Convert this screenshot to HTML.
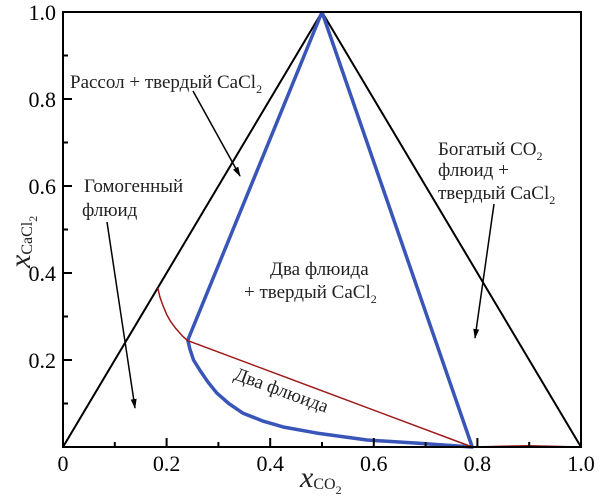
<!DOCTYPE html>
<html><head><meta charset="utf-8"><style>
body{margin:0;background:#fff}
svg{display:block;font-family:"Liberation Serif",serif}
</style></head><body>
<svg id="chart" width="609" height="500" viewBox="0 0 609 500">
<defs><marker id="ah" markerWidth="10" markerHeight="14" refX="9" refY="4" orient="auto" markerUnits="userSpaceOnUse" viewBox="0 0 10 8"><path d="M0,1 L10,4 L0,7 Z" fill="#000"/></marker></defs>
<g id="marks"></g>
<rect x="63" y="12" width="518" height="435" fill="none" stroke="#000" stroke-width="2"/>
<g id="ticks"></g>
<g font-size="19" fill="#222">
<text x="300" y="487" font-style="italic" font-size="30">x<tspan font-style="normal" font-size="16" dy="2">CO</tspan><tspan font-style="normal" font-size="12" dy="5">2</tspan></text>
<text transform="translate(30,268) rotate(-90)" font-style="italic" font-size="30">x<tspan font-style="normal" font-size="16" dy="2">CaCl</tspan><tspan font-style="normal" font-size="12" dy="5">2</tspan></text>
<text x="70" y="88" font-size="19">Рассол + твердый CaCl<tspan font-size="12" dy="5">2</tspan></text>
<text x="84" y="192" font-size="19">Гомогенный</text>
<text x="82" y="216" font-size="19">флюид</text>
<text x="270" y="275" font-size="19">Два флюида</text>
<text x="244" y="298" font-size="19">+ твердый CaCl<tspan font-size="12" dy="5">2</tspan></text>
<text x="438" y="155" font-size="19">Богатый CO<tspan font-size="12" dy="5">2</tspan></text>
<text x="438" y="176" font-size="19">флюид +</text>
<text x="438" y="199" font-size="19">твердый CaCl<tspan font-size="12" dy="5">2</tspan></text>
<text transform="translate(233,379) rotate(20)" font-size="19">Два флюида</text>
</g>
<line x1="193" y1="91" x2="240" y2="176" stroke="#000" stroke-width="1.5" marker-end="url(#ah)"/>
<line x1="107" y1="222" x2="135" y2="408" stroke="#000" stroke-width="1.5" marker-end="url(#ah)"/>
<line x1="494" y1="204" x2="475" y2="338" stroke="#000" stroke-width="1.5" marker-end="url(#ah)"/>
</svg>
<script>
const xTicks=[0,0.2,0.4,0.6,0.8,1.0];
const xTickLabels=["0","0.2","0.4","0.6","0.8","1.0"];
const yTicks=[0.2,0.4,0.6,0.8,1.0];
const yTickLabels=["0.2","0.4","0.6","0.8","1.0"];
const triangleX=[0,0.5,1];
const triangleY=[0,1,0];
const blueX=[0.5,0.241,0.245,0.252,0.264,0.28,0.297,0.32,0.347,0.385,0.425,0.49,0.587,0.683,0.79,0.5];
const blueY=[1,0.246,0.225,0.2,0.177,0.149,0.124,0.1,0.078,0.06,0.046,0.032,0.016,0.009,0.0,1];
const redCurveX=[0.183,0.187,0.193,0.2,0.208,0.218,0.23,0.24];
const redCurveY=[0.366,0.345,0.325,0.305,0.288,0.272,0.256,0.245];
const tieX=[0.24,0.79,0.9,1.0];
const tieY=[0.245,0.0,0.003,0.0];
const X=v=>63+v*518, Y=v=>447-v*435;
const NS="http://www.w3.org/2000/svg";
const marks=document.getElementById('marks'), ticks=document.getElementById('ticks');
function poly(xs,ys,color,w,name){const p=document.createElementNS(NS,'polyline');
p.setAttribute('points',xs.map((x,i)=>X(x)+','+Y(ys[i])).join(' '));
p.setAttribute('fill','none');p.setAttribute('stroke',color);p.setAttribute('stroke-width',w);p.setAttribute('stroke-linejoin','round');


marks.appendChild(p);}
poly(triangleX,triangleY,'#000',2,'triangle-boundary');
poly(blueX,blueY,'#3a55b8',3.5,'three-phase-region');
poly(redCurveX,redCurveY,'#a01818',1.5,'red-boundary-curve');
poly(tieX,tieY,'#a01818',1.5,'tie-line');
for(let i=0;i<=10;i++){const v=i/10;
const t=document.createElementNS(NS,'line');t.setAttribute('x1',X(v));t.setAttribute('x2',X(v));t.setAttribute('y1',447);t.setAttribute('y2',i%2?442:438);t.setAttribute('stroke','#000');t.setAttribute('stroke-width',2);


ticks.appendChild(t);
const u=document.createElementNS(NS,'line');u.setAttribute('y1',Y(v));u.setAttribute('y2',Y(v));u.setAttribute('x1',63);u.setAttribute('x2',i%2?68:72);u.setAttribute('stroke','#000');u.setAttribute('stroke-width',2);


ticks.appendChild(u);}
xTicks.forEach((v,i)=>{const t=document.createElementNS(NS,'text');t.setAttribute('x',X(v));t.setAttribute('y',471);t.setAttribute('text-anchor','middle');t.setAttribute('font-size','22');t.textContent=xTickLabels[i];


ticks.appendChild(t);});
yTicks.forEach((v,i)=>{const t=document.createElementNS(NS,'text');t.setAttribute('x',56);t.setAttribute('y',Y(v)+8);t.setAttribute('text-anchor','end');t.setAttribute('font-size','22');t.textContent=yTickLabels[i];


ticks.appendChild(t);});
</script>
</body></html>
